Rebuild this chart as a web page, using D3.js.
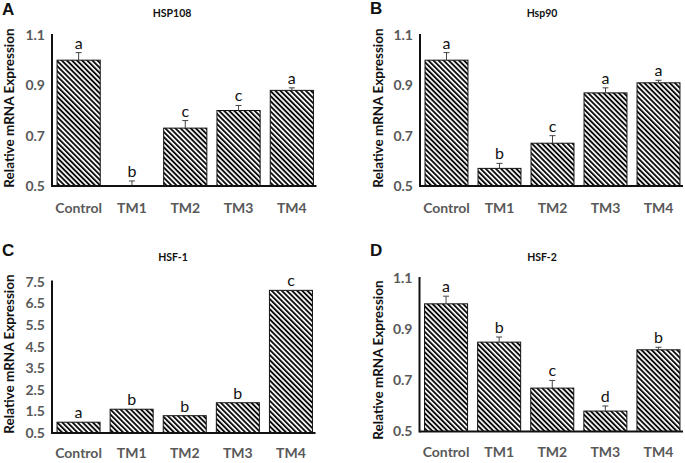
<!DOCTYPE html>
<html><head><meta charset="utf-8">
<script src="https://cdn.jsdelivr.net/npm/d3@7"></script>
<style>body{margin:0;background:#fff}svg{display:block}</style>
</head><body>
<svg id="chart" width="685" height="463"></svg>
<script>
const categories = ["Control", "TM1", "TM2", "TM3", "TM4"];

const hsp108Values = [1.00, 0.50, 0.73, 0.80, 0.88];
const hsp108Errors = [0.03, 0.02, 0.03, 0.02, 0.01];
const hsp108Letters = ["a", "b", "c", "c", "a"];

const hsp90Values = [1.00, 0.57, 0.67, 0.87, 0.91];
const hsp90Errors = [0.03, 0.02, 0.03, 0.02, 0.01];
const hsp90Letters = ["a", "b", "c", "a", "a"];

const hsf1Values = [1.0, 1.6, 1.3, 1.9, 7.1];
const hsf1Errors = [0, 0, 0, 0, 0];
const hsf1Letters = ["a", "b", "b", "b", "c"];

const hsf2Values = [1.00, 0.85, 0.67, 0.58, 0.82];
const hsf2Errors = [0.03, 0.02, 0.03, 0.02, 0.01];
const hsf2Letters = ["a", "b", "c", "d", "b"];

const ticksSmall = [0.5, 0.7, 0.9, 1.1];
const ticksHsf1 = [0.5, 1.5, 2.5, 3.5, 4.5, 5.5, 6.5, 7.5];

const panels = [
  {tag: "A", title: "HSP108", values: hsp108Values, errors: hsp108Errors, letters: hsp108Letters, ticks: ticksSmall,
   x0: 52, x1: 318.5, yTop: 35, yBot: 186, axisTop: 34, tagX: 2, tagY: 15, titleX: 172, titleY: 17, ylabX: 14, ylabC: 108, labY: 213},
  {tag: "B", title: "Hsp90", values: hsp90Values, errors: hsp90Errors, letters: hsp90Letters, ticks: ticksSmall,
   x0: 420, x1: 685, yTop: 35, yBot: 186, axisTop: 34, tagX: 370, tagY: 14, titleX: 542, titleY: 17, ylabX: 383, ylabC: 108, labY: 213},
  {tag: "C", title: "HSF-1", values: hsf1Values, errors: hsf1Errors, letters: hsf1Letters, ticks: ticksHsf1,
   x0: 52, x1: 317.5, yTop: 281.7, yBot: 433, axisTop: 280.5, tagX: 2, tagY: 256, titleX: 173, titleY: 261, ylabX: 14, ylabC: 354, labY: 458},
  {tag: "D", title: "HSF-2", values: hsf2Values, errors: hsf2Errors, letters: hsf2Letters, ticks: ticksSmall,
   x0: 419.5, x1: 685, yTop: 278.3, yBot: 431.5, axisTop: 277, tagX: 370, tagY: 256, titleX: 542, titleY: 261, ylabX: 383, ylabC: 360, labY: 457}
];

const svg = d3.select("#chart");
const defs = svg.append("defs");
const pat = defs.append("pattern")
  .attr("id", "hatch").attr("patternUnits", "userSpaceOnUse")
  .attr("width", 3.6).attr("height", 3.6)
  .attr("patternTransform", "rotate(-45)");
pat.append("rect").attr("width", 3.6).attr("height", 3.6).attr("fill", "#fff");
pat.append("rect").attr("x", 0).attr("y", 0).attr("width", 1.9).attr("height", 3.6).attr("fill", "#0d0d0d");

const tickFont = "Lato, 'Open Sans', sans-serif";

panels.forEach(p => {
  const g = svg.append("g");
  const x = d3.scaleBand().domain(categories).range([p.x0, p.x1]).paddingInner(0.19).paddingOuter(0.095);
  const dom = d3.extent(p.ticks);
  const y = d3.scaleLinear().domain(dom).range([p.yBot, p.yTop]);

  // bars
  g.selectAll("rect.bar").data(p.values).join("rect")
    .attr("class", "bar")
    .attr("x", (d, i) => x(categories[i]))
    .attr("width", x.bandwidth())
    .attr("y", d => y(d))
    .attr("height", d => Math.max(0, y(dom[0]) - y(d)))
    .attr("fill", "url(#hatch)")
    .attr("stroke", d => d > dom[0] ? "#111" : "none")
    .attr("stroke-width", 1);

  // error bars
  p.values.forEach((v, i) => {
    const e = p.errors[i];
    if (e <= 0) return;
    const cx = x(categories[i]) + x.bandwidth() / 2;
    g.append("line").attr("x1", cx).attr("x2", cx).attr("y1", y(v)).attr("y2", y(v + e))
      .attr("stroke", "#444").attr("stroke-width", 1);
    g.append("line").attr("x1", cx - 3).attr("x2", cx + 3).attr("y1", y(v + e)).attr("y2", y(v + e))
      .attr("stroke", "#444").attr("stroke-width", 1);
  });

  // significance letters
  g.selectAll("text.sig").data(p.values).join("text")
    .attr("class", "sig")
    .attr("x", (d, i) => x(categories[i]) + x.bandwidth() / 2)
    .attr("y", (d, i) => y(d + p.errors[i]) - 4)
    .attr("text-anchor", "middle")
    .attr("font-family", tickFont).attr("font-size", 16).attr("fill", "#111")
    .text((d, i) => p.letters[i]);

  // y axis
  const yAxis = d3.axisLeft(y).tickValues(p.ticks).tickSize(0).tickPadding(7)
    .tickFormat(d3.format(".1f"));
  const ya = g.append("g").attr("transform", `translate(${p.x0},0)`).call(yAxis);
  ya.select(".domain").remove();
  ya.selectAll("text").attr("font-family", tickFont).attr("font-size", 14)
    .attr("font-weight", "bold").attr("fill", "#595959");
  g.append("line").attr("x1", p.x0).attr("x2", p.x0).attr("y1", p.axisTop).attr("y2", p.yBot + 1)
    .attr("stroke", "#111").attr("stroke-width", 2);

  // x axis
  const xAxis = d3.axisBottom(x).tickSize(0).tickPadding(0);
  const xa = g.append("g").attr("transform", `translate(0,${p.labY})`).call(xAxis);
  xa.select(".domain").remove();
  xa.selectAll("text").attr("font-family", tickFont).attr("font-size", 14)
    .attr("font-weight", "bold").attr("fill", "#595959").attr("dy", null).attr("y", 0);
  g.append("line").attr("x1", p.x0).attr("x2", p.x1 - 2).attr("y1", p.yBot).attr("y2", p.yBot)
    .attr("stroke", "#111").attr("stroke-width", 2);

  // y label
  g.append("text")
    .attr("transform", `translate(${p.ylabX},${p.ylabC}) rotate(-90)`)
    .attr("text-anchor", "middle")
    .attr("font-family", tickFont).attr("font-size", 13.5).attr("font-weight", "bold").attr("fill", "#111")
    .text("Relative mRNA Expression");

  // title
  g.append("text").attr("x", p.titleX).attr("y", p.titleY).attr("text-anchor", "middle")
    .attr("font-family", tickFont).attr("font-size", 10.5).attr("font-weight", "bold").attr("fill", "#111")
    .text(p.title);

  // panel tag
  g.append("text").attr("x", p.tagX).attr("y", p.tagY)
    .attr("font-family", "'Liberation Sans', Arial, sans-serif").attr("font-size", 17).attr("font-weight", "bold")
    .attr("fill", "#111").text(p.tag);
});
</script>
</body></html>
